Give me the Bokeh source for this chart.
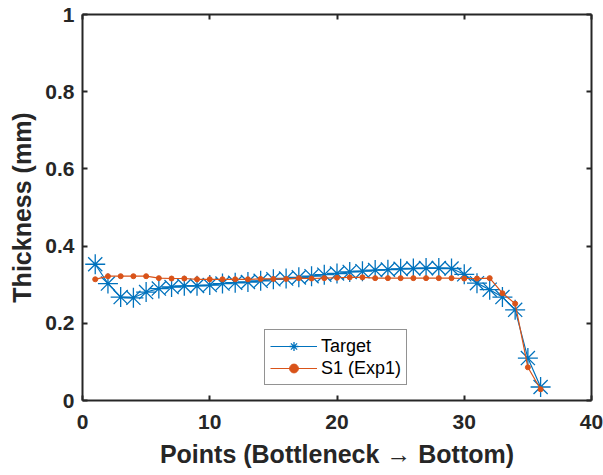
from bokeh.plotting import figure
from bokeh.models import LinearAxis, FixedTicker, Legend, LegendItem, Range1d
from bokeh.embed import file_html
from bokeh.resources import INLINE

# ---- data ----
points = [1, 2, 3, 4, 5, 6, 7, 8, 9, 10, 11, 12, 13, 14, 15, 16, 17, 18,
          19, 20, 21, 22, 23, 24, 25, 26, 27, 28, 29, 30, 31, 32, 33, 34, 35, 36]
target = [0.353, 0.303, 0.268, 0.266, 0.281, 0.290, 0.294, 0.297, 0.297, 0.299,
          0.303, 0.305, 0.307, 0.310, 0.314, 0.316, 0.319, 0.322, 0.326, 0.329,
          0.333, 0.335, 0.338, 0.339, 0.341, 0.342, 0.343, 0.343, 0.342, 0.327,
          0.304, 0.287, 0.268, 0.235, 0.110, 0.035]
s1_exp1 = [0.314, 0.322, 0.322, 0.322, 0.322, 0.317, 0.316, 0.316, 0.314, 0.314,
           0.314, 0.314, 0.314, 0.315, 0.315, 0.315, 0.317, 0.316, 0.317, 0.318,
           0.319, 0.319, 0.317, 0.317, 0.317, 0.317, 0.317, 0.317, 0.317, 0.316,
           0.316, 0.317, 0.278, 0.251, 0.086, 0.029]
x_ticks = [0, 10, 20, 30, 40]
x_tick_labels = ["0", "10", "20", "30", "40"]
y_ticks = [0, 0.2, 0.4, 0.6, 0.8, 1]
y_tick_labels = ["0", "0.2", "0.4", "0.6", "0.8", "1"]
series_names = ["Target", "S1 (Exp1)"]

BLUE = "#0072BD"
ORANGE = "#D95319"
AX = "#262626"
FONT = "Liberation Sans"

p = figure(width=603, height=475, output_backend="svg", toolbar_location=None,
           x_range=Range1d(0, 40), y_range=Range1d(0, 1),
           min_border_left=82, min_border_right=12, min_border_top=14,
           min_border_bottom=75, x_axis_location=None, y_axis_location=None)
p.outline_line_color = None
p.xgrid.visible = False
p.ygrid.visible = False
p.background_fill_color = "white"
p.border_fill_color = "white"


def style_axis(ax, ticks, labels, show_labels):
    ax.ticker = FixedTicker(ticks=ticks)
    if show_labels:
        ax.major_label_overrides = {t: l for t, l in zip(ticks, labels)}
    else:
        ax.major_label_overrides = {t: "" for t in ticks}
    ax.axis_line_color = AX
    ax.axis_line_width = 2
    ax.major_tick_line_color = AX
    ax.major_tick_line_width = 2
    ax.major_tick_in = 5
    ax.major_tick_out = 0
    ax.minor_tick_line_color = None
    ax.major_label_text_font = FONT
    ax.major_label_text_font_style = "bold"
    ax.major_label_text_color = AX
    ax.major_label_text_font_size = "21px"
    ax.axis_label_text_font = FONT
    ax.axis_label_text_font_style = "bold"
    ax.axis_label_text_color = AX
    if not show_labels:
        ax.major_label_standoff = 0


xb = LinearAxis(axis_label="Points (Bottleneck \u2192 Bottom)")
style_axis(xb, x_ticks, x_tick_labels, True)
xb.major_label_standoff = 14
xb.axis_label_standoff = 8
xb.axis_label_text_font_size = "25px"
p.add_layout(xb, "below")

yl = LinearAxis(axis_label="Thickness (mm)")
style_axis(yl, y_ticks, y_tick_labels, True)
yl.major_label_standoff = 8
yl.axis_label_standoff = 6
yl.axis_label_text_font_size = "25px"
p.add_layout(yl, "left")

xt = LinearAxis()
style_axis(xt, x_ticks, x_tick_labels, False)
p.add_layout(xt, "above")

yr = LinearAxis()
style_axis(yr, y_ticks, y_tick_labels, False)
p.add_layout(yr, "right")

l1 = p.line(points, target, line_color=BLUE, line_width=1.2)
m1 = p.scatter(points, target, marker="asterisk", size=20, line_color=BLUE,
               line_width=1.3)
l2 = p.line(points, s1_exp1, line_color=ORANGE, line_width=1.2)
m2 = p.scatter(points, s1_exp1, marker="circle", size=5, fill_color=ORANGE,
               line_color=ORANGE)

legend = Legend(items=[LegendItem(label=series_names[0], renderers=[l1, m1]),
                       LegendItem(label=series_names[1], renderers=[l2, m2])],
                location=(182, 15))
legend.label_text_font = FONT
legend.label_text_font_size = "18px"
legend.label_text_color = "black"
legend.glyph_width = 47
legend.glyph_height = 22
legend.label_height = 22
legend.label_standoff = 4
legend.padding = 5
legend.spacing = 0
legend.margin = 0
legend.border_line_color = AX
legend.border_line_width = 1
legend.background_fill_color = "white"
legend.background_fill_alpha = 1
p.add_layout(legend, "center")

open("out.html", "w").write(file_html(p, INLINE))
